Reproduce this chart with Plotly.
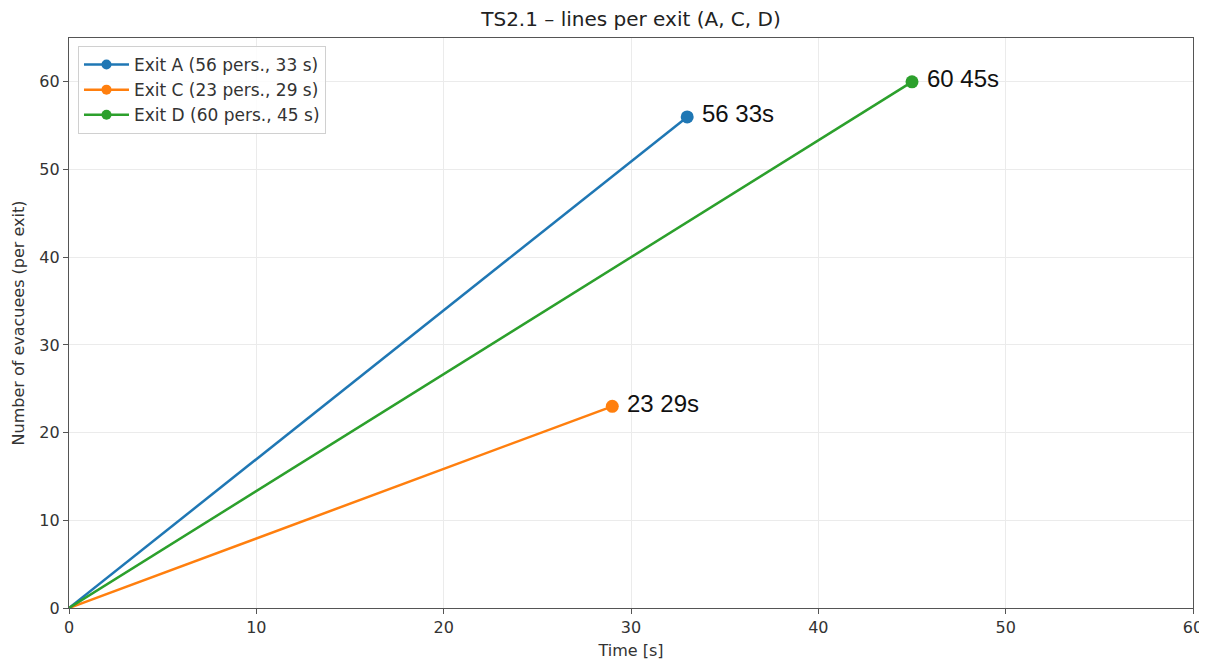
import plotly.graph_objects as go

exits = ["A", "C", "D"]
persons = [56, 23, 60]
times = [33, 29, 45]
colors = ["#1f77b4", "#ff7f0e", "#2ca02c"]

FONT = "DejaVu Sans, sans-serif"

fig = go.Figure()
for e, n, t, c in zip(exits, persons, times, colors):
    name = f"Exit {e} ({n} pers., {t} s)"
    fig.add_trace(go.Scatter(
        x=[0, t], y=[0, n], mode="lines", legendgroup=e, showlegend=False,
        line=dict(color=c, width=2.5), hoverinfo="skip",
    ))
    fig.add_trace(go.Scatter(
        x=[t], y=[n], mode="markers", legendgroup=e, showlegend=False,
        marker=dict(color=c, size=13, opacity=1, line=dict(width=0)),
    ))
    fig.add_annotation(x=t, y=n, text=f"{n} {t}s", showarrow=False,
                       xanchor="left", yanchor="middle", xshift=13, yshift=3,
                       font=dict(family="Liberation Sans, Arial", size=24, color="#111"))
    fig.add_trace(go.Scatter(
        x=[None], y=[None], mode="lines+markers", legendgroup=e, name=name,
        line=dict(color=c, width=2.5), marker=dict(color=c, size=10),
    ))

axis_common = dict(showline=True, linecolor="#555", linewidth=1.3, mirror=True,
                   ticks="outside", ticklen=5, tickcolor="#555",
                   showgrid=True, gridcolor="#ebebeb", gridwidth=1,
                   zeroline=False, automargin=False,
                   tickfont=dict(family=FONT, size=16, color="#333"))
fig.update_xaxes(range=[0, 60], dtick=10,
                 title=dict(text="Time [s]", font=dict(family=FONT, size=16, color="#333"), standoff=8),
                 **axis_common)
fig.update_yaxes(range=[0, 65], dtick=10,
                 title=dict(text="Number of evacuees (per exit)", font=dict(family=FONT, size=16, color="#333"), standoff=10),
                 **axis_common)

fig.update_layout(
    width=1199, height=656,
    margin=dict(l=61, r=14, t=30, b=56),
    paper_bgcolor="white", plot_bgcolor="white",
    font=dict(family=FONT, size=16, color="#333"),
    title=dict(text="TS2.1 – lines per exit (A, C, D)", x=0.5, xref="paper", xanchor="center",
               y=1, yref="container", yanchor="top", pad=dict(t=4),
               font=dict(family=FONT, size=20, color="#222")),
    legend=dict(x=0.008, y=0.986, xanchor="left", yanchor="top",
                bgcolor="rgba(255,255,255,0.85)", bordercolor="#d0d0d0", borderwidth=1,
                font=dict(family=FONT, size=17, color="#333"), tracegroupgap=0,
                itemwidth=45),
    showlegend=True,
)

fig.write_html("out.html")
